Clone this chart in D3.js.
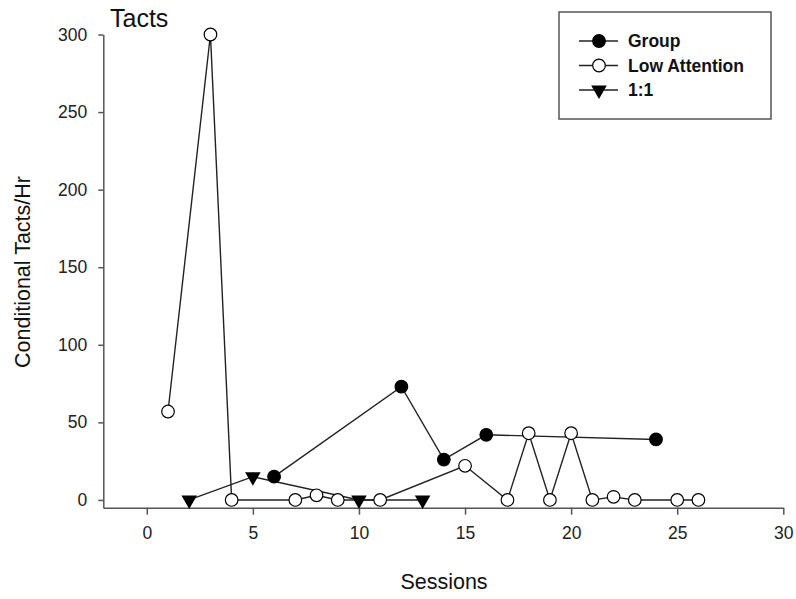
<!DOCTYPE html>
<html>
<head>
<meta charset="utf-8">
<script src="https://cdn.jsdelivr.net/npm/d3@7"></script>
<style>
  body { margin: 0; background: #fff; }
  text { font-family: Arial, "Liberation Sans", sans-serif; fill: #111; }
  .axis path, .axis line { stroke: #555; stroke-width: 1.5; }
  .axis text { font-size: 17.5px; fill: #222; }
</style>
</head>
<body>
<svg id="chart"></svg>
<script>
// data (session, tacts per hour)
var groupSessions = [6, 12, 14, 16, 24];
var groupValues = [15, 73, 26, 42, 39];

var lowSessions = [1, 3, 4, 7, 8, 9, 11, 15, 17, 18, 19, 20, 21, 22, 23, 25, 26];
var lowValues = [57, 300, 0, 0, 3, 0, 0, 22, 0, 43, 0, 43, 0, 2, 0, 0, 0];

var oneSessions = [2, 5, 10, 13];
var oneValues = [0, 15, 0, 0];

var seriesNames = ["Group", "Low Attention", "1:1"];
var xTicks = [0, 5, 10, 15, 20, 25, 30];
var yTicks = [0, 50, 100, 150, 200, 250, 300];

var svg = d3.select("#chart")
    .attr("width", 796)
    .attr("height", 599);

// scales, the axes cross at the lower left corner
var x = d3.scaleLinear().domain([-2.05, 30]).range([103.3, 783.3]);
var y = d3.scaleLinear().domain([-5, 300]).range([507.7, 34.5]);

var xAxis = d3.axisBottom(x).tickValues(xTicks).tickSize(7).tickSizeOuter(0).tickPadding(12);
svg.append("g")
    .attr("class", "x axis")
    .attr("transform", "translate(0," + y(-5) + ")")
    .call(xAxis);

var yAxis = d3.axisLeft(y).tickValues(yTicks).tickSize(5).tickSizeOuter(0).tickPadding(11);
svg.append("g")
    .attr("class", "y axis")
    .attr("transform", "translate(" + x(-2.05) + ",0)")
    .call(yAxis);

// axis titles
svg.append("text")
    .attr("text-anchor", "middle")
    .attr("x", 444)
    .attr("y", 589)
    .style("font-size", "21.5px")
    .text("Sessions");
svg.append("text")
    .attr("text-anchor", "middle")
    .attr("transform", "translate(30,272)rotate(-90)")
    .style("font-size", "21.5px")
    .text("Conditional Tacts/Hr");

// panel title
svg.append("text")
    .attr("x", 110)
    .attr("y", 27)
    .style("font-size", "25px")
    .text("Tacts");

var line = d3.line()
    .x(function(d) { return x(d[0]); })
    .y(function(d) { return y(d[1]); });

var series = [
    { name: seriesNames[0], pts: d3.zip(groupSessions, groupValues), marker: "filled" },
    { name: seriesNames[1], pts: d3.zip(lowSessions, lowValues), marker: "open" },
    { name: seriesNames[2], pts: d3.zip(oneSessions, oneValues), marker: "tri" }
];

var tri = d3.symbol().type(d3.symbolTriangle).size(105)();

function drawMarker(g, kind) {
    if (kind === "tri") {
        g.append("path")
            .attr("d", tri)
            .attr("transform", "rotate(180)")
            .style("fill", "#000");
    } else {
        g.append("circle")
            .attr("r", 6.3)
            .style("fill", kind === "filled" ? "#000" : "#fff")
            .style("stroke", "#000")
            .style("stroke-width", 1.2);
    }
}

// lines first, then markers on top
series.forEach(function(s) {
    svg.append("path")
        .datum(s.pts)
        .attr("d", line)
        .style("fill", "none")
        .style("stroke", "#222")
        .style("stroke-width", 1.4);
});
series.forEach(function(s) {
    s.pts.forEach(function(p) {
        var g = svg.append("g")
            .attr("transform", "translate(" + x(p[0]) + "," + y(p[1]) + ")");
        drawMarker(g, s.marker);
    });
});

// legend
var legend = svg.append("g");
legend.append("rect")
    .attr("x", 559)
    .attr("y", 12)
    .attr("width", 212)
    .attr("height", 107)
    .style("fill", "#fff")
    .style("stroke", "#555")
    .style("stroke-width", 1.5);

series.forEach(function(s, i) {
    var ly = 41 + i * 24.5;
    legend.append("line")
        .attr("x1", 579).attr("x2", 618)
        .attr("y1", ly).attr("y2", ly)
        .style("stroke", "#222")
        .style("stroke-width", 1.4);
    var g = legend.append("g").attr("transform", "translate(599," + ly + ")");
    drawMarker(g, s.marker);
    legend.append("text")
        .attr("x", 628)
        .attr("y", ly + 6)
        .style("font-size", "17.5px")
        .style("font-weight", "bold")
        .text(s.name);
});
</script>
</body>
</html>
